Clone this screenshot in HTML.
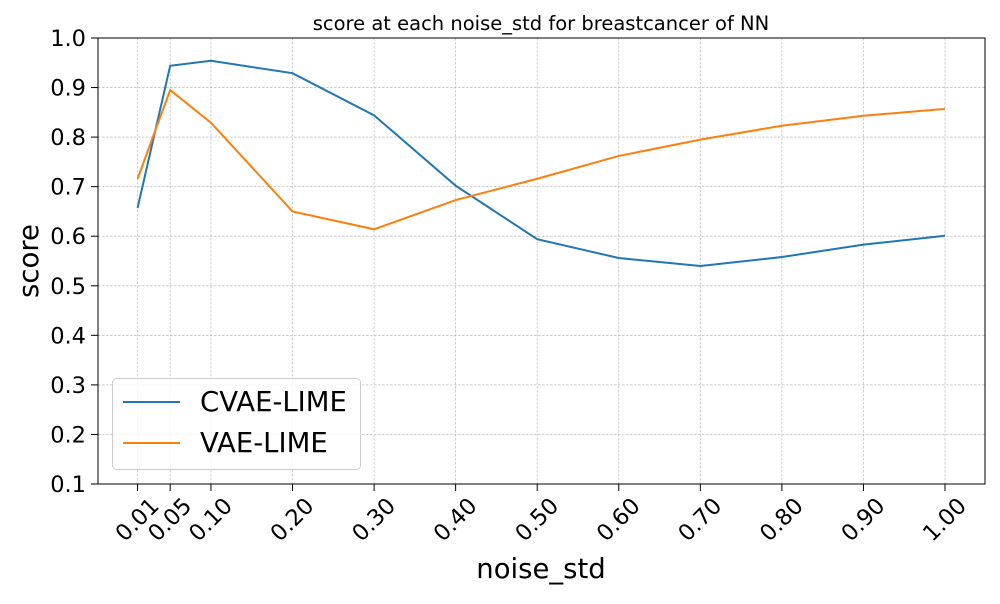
<!DOCTYPE html>
<html><head><meta charset="utf-8"><style>
body{margin:0;background:#fff;font-family:"DejaVu Sans","Liberation Sans",sans-serif}
</style></head><body>
<svg id="chart" width="1000" height="600" xmlns="http://www.w3.org/2000/svg" font-family="DejaVu Sans, Liberation Sans, sans-serif">
<rect width="1000" height="600" fill="#fff"/>
<g id="grid"></g>
<g id="lines"></g>
<rect x="98" y="38" width="887" height="446" fill="none" stroke="#000" stroke-width="1"/>
<g id="ticks"></g>
<text x="541" y="30" text-anchor="middle" font-size="19.5">score at each noise_std for breastcancer of NN</text>
<text x="541" y="578" text-anchor="middle" font-size="27.5">noise_std</text>
<text transform="translate(38,261) rotate(-90)" text-anchor="middle" font-size="27.5">score</text>
<g>
<rect x="112.5" y="378.5" width="248" height="91" rx="4" fill="#fff" fill-opacity="0.8" stroke="#ccc"/>
<g><line x1="123" y1="402" x2="180" y2="402" stroke="#1f77b4" stroke-width="2"/><text x="200" y="411" font-size="27.5">CVAE-LIME</text></g>
<g><line x1="123" y1="443" x2="180" y2="443" stroke="#ff7f0e" stroke-width="2"/><text x="200" y="452" font-size="27.5">VAE-LIME</text></g>
</g>
</svg>
<script>
const categories=[0.01,0.05,0.10,0.20,0.30,0.40,0.50,0.60,0.70,0.80,0.90,1.00];
const tickLabels=["0.01","0.05","0.10","0.20","0.30","0.40","0.50","0.60","0.70","0.80","0.90","1.00"];
const cvaeValues=[0.657,0.944,0.954,0.929,0.844,0.702,0.594,0.556,0.540,0.558,0.583,0.601];
const vaeValues=[0.716,0.895,0.829,0.650,0.614,0.673,0.716,0.762,0.795,0.823,0.843,0.857];
const yTicks=[0.1,0.2,0.3,0.4,0.5,0.6,0.7,0.8,0.9,1.0];
const NS="http://www.w3.org/2000/svg";
function xs(v){return 129.4+815.6*v;}
function ys(v){return 484-(v-0.1)/0.9*446;}
function mk(tag,attrs,parent){const e=document.createElementNS(NS,tag);for(const k in attrs)e.setAttribute(k,attrs[k]);parent.appendChild(e);return e;}
const grid=document.getElementById('grid'),ticks=document.getElementById('ticks'),lines=document.getElementById('lines');
categories.forEach((c,i)=>{
  const x=xs(c);
  const g=mk('line',{x1:x,x2:x,y1:38,y2:484,stroke:'#b0b0b0','stroke-width':0.6,'stroke-dasharray':'2.5,1.5'},grid);
  
  
  const t=mk('line',{x1:x,x2:x,y1:484,y2:491,stroke:'#000'},ticks);
  
  
  const l=mk('text',{x:0,y:0,'font-size':22.5,'text-anchor':'middle','dominant-baseline':'central',transform:`translate(${x},${520}) rotate(-45)`},ticks);
  l.textContent=tickLabels[i];
  
  
});
yTicks.forEach(v=>{
  const y=ys(v);
  const g=mk('line',{x1:98,x2:985,y1:y,y2:y,stroke:'#b0b0b0','stroke-width':0.6,'stroke-dasharray':'2.5,1.5'},grid);
  
  
  const t=mk('line',{x1:91,x2:98,y1:y,y2:y,stroke:'#000'},ticks);
  
  
  const l=mk('text',{x:86,y:y+8,'font-size':22.5,'text-anchor':'end'},ticks);
  l.textContent=v.toFixed(1);
  
  
});
function series(vals,color,name){
  const p=mk('polyline',{points:vals.map((v,i)=>xs(categories[i])+','+ys(v)).join(' '),fill:'none',stroke:color,'stroke-width':2},lines);
  
  
}
series(cvaeValues,'#1f77b4','cvae-lime-line');
series(vaeValues,'#ff7f0e','vae-lime-line');
</script>
</body></html>
